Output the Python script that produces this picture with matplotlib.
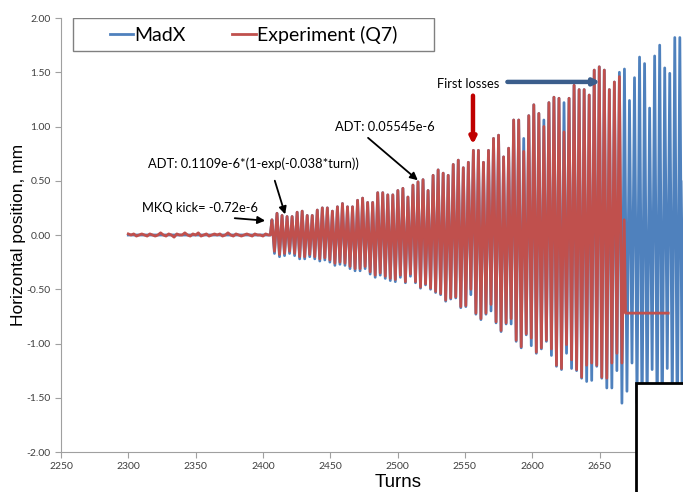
import numpy as np
import matplotlib
matplotlib.use("Agg")
import matplotlib.pyplot as plt
from matplotlib.patches import Rectangle

# --- data ------------------------------------------------------------------
# quiet orbit before the MKQ kick (every 2 turns from 2300)
NOISE = [0.01, 0.0, 0.01, -0.01, 0.0, 0.01, 0.0, -0.01, 0.01, 0.0,
         -0.01, 0.0, 0.02, 0.0, -0.01, 0.01, 0.0, -0.02, 0.01, 0.0,
         0.0, 0.02, 0.0, -0.01, 0.01, 0.0, 0.02, -0.01, 0.0, 0.01,
         -0.01, 0.0, 0.01, 0.0, 0.01, -0.01, 0.0, 0.02, 0.0, -0.01,
         0.01, 0.0, -0.01, 0.0, 0.01, 0.0, -0.01, 0.01, 0.0, 0.0,
         -0.01, 0.01, 0.0]
KICK_TURN = 2405.5
FIRST_PEAK_TURN = 2406.7
PERIOD = 3.74  # turns per oscillation

RED_PEAKS = [0.14, 0.20, 0.18, 0.17, 0.17, 0.21, 0.22, 0.18, 0.18, 0.23,
             0.25, 0.25, 0.22, 0.26, 0.29, 0.26, 0.26, 0.32, 0.34, 0.30,
             0.30, 0.39, 0.39, 0.37, 0.37, 0.41, 0.43, 0.35, 0.46, 0.49,
             0.51, 0.41, 0.55, 0.60, 0.57, 0.55, 0.65, 0.69, 0.62, 0.67,
             0.78, 0.78, 0.67, 0.78, 0.89, 0.92, 0.72, 0.80, 1.06, 1.06,
             0.77, 1.10, 1.20, 1.12, 1.00, 1.22, 1.27, 1.26, 0.95, 1.26,
             1.38, 1.34, 1.34, 1.29, 1.52, 1.55, 1.52, 1.34, 1.41, 1.46]
RED_TROUGHS = [-0.15, -0.18, -0.17, -0.15, -0.17, -0.20, -0.20, -0.18, -0.20, -0.22,
               -0.21, -0.23, -0.26, -0.25, -0.26, -0.29, -0.31, -0.31, -0.29, -0.34,
               -0.37, -0.35, -0.38, -0.40, -0.41, -0.37, -0.43, -0.36, -0.43, -0.48,
               -0.45, -0.49, -0.52, -0.54, -0.60, -0.58, -0.57, -0.66, -0.65, -0.50,
               -0.72, -0.77, -0.72, -0.64, -0.80, -0.88, -0.81, -0.77, -0.97, -1.03,
               -0.91, -0.95, -1.08, -1.04, -0.97, -1.05, -1.20, -1.23, -1.01, -1.15,
               -1.24, -1.31, -1.20, -1.18, -1.20, -1.31, -1.32, -1.18, -1.09, -1.18]
# after the losses the BPM reading sticks at a constant value
RED_TAIL_TURNS = [2668.3, 2669.3, 2701.0]
RED_TAIL = [0.14, -0.72, -0.72]

BLUE_PEAKS = [0.14, 0.20, 0.18, 0.17, 0.17, 0.21, 0.22, 0.18, 0.18, 0.23,
              0.25, 0.25, 0.22, 0.26, 0.29, 0.26, 0.26, 0.32, 0.34, 0.30,
              0.30, 0.39, 0.39, 0.37, 0.37, 0.41, 0.43, 0.35, 0.46, 0.49,
              0.51, 0.41, 0.55, 0.60, 0.57, 0.55, 0.65, 0.69, 0.62, 0.67,
              0.78, 0.78, 0.67, 0.78, 0.89, 0.92, 0.72, 0.80, 1.06, 1.06,
              0.89, 1.10, 1.20, 1.12, 1.06, 1.22, 1.27, 1.26, 1.22, 1.26,
              1.38, 1.34, 1.34, 1.29, 1.52, 1.55, 1.52, 1.34, 1.41, 1.50,
              1.53, 1.24, 1.45, 1.64, 1.58, 1.17, 1.65, 1.75, 1.54, 1.49,
              1.82, 1.82, 1.70]
BLUE_TROUGHS = [-0.17, -0.20, -0.19, -0.17, -0.19, -0.22, -0.22, -0.20, -0.22, -0.24,
                -0.23, -0.25, -0.28, -0.27, -0.28, -0.31, -0.33, -0.33, -0.31, -0.36,
                -0.39, -0.37, -0.40, -0.42, -0.43, -0.39, -0.44, -0.38, -0.44, -0.49,
                -0.46, -0.50, -0.53, -0.55, -0.61, -0.59, -0.58, -0.67, -0.66, -0.55,
                -0.73, -0.78, -0.73, -0.70, -0.81, -0.89, -0.82, -0.82, -0.98, -1.04,
                -0.92, -1.02, -1.09, -1.05, -0.98, -1.11, -1.21, -1.24, -1.09, -1.23,
                -1.25, -1.32, -1.35, -1.34, -1.21, -1.32, -1.41, -1.41, -1.25, -1.55,
                -1.44, -1.18, -1.55, -1.70, -1.60, -1.24, -1.70, -1.75, -1.23, -1.55,
                -1.85, -1.85, -1.80]

X_TICKS = list(range(2250, 2701, 50))
Y_TICKS = [-2.0, -1.5, -1.0, -0.5, 0.0, 0.5, 1.0, 1.5, 2.0]

RED = "#C0504D"
BLUE = "#4F81BD"


def extrema_series(peaks, troughs):
    # alternate peak / trough, half a period apart
    k = np.arange(len(peaks))
    turns = np.empty(2 * len(peaks))
    vals = np.empty(2 * len(peaks))
    turns[0::2] = FIRST_PEAK_TURN + PERIOD * k
    turns[1::2] = FIRST_PEAK_TURN + PERIOD * (k + 0.5)
    vals[0::2] = peaks
    vals[1::2] = troughs
    return turns, vals


def main():
    plt.rcParams["font.family"] = ["Liberation Sans", "DejaVu Sans"]
    plt.rcParams["axes.unicode_minus"] = False

    noise_turns = 2300 + 2 * np.arange(len(NOISE))
    rt, rv = extrema_series(RED_PEAKS, RED_TROUGHS)
    bt, bv = extrema_series(BLUE_PEAKS, BLUE_TROUGHS)

    red_x = np.concatenate([noise_turns, [KICK_TURN], rt, RED_TAIL_TURNS])
    red_y = np.concatenate([NOISE, [0.0], rv, RED_TAIL])
    blue_x = np.concatenate([[2300, KICK_TURN], bt])
    blue_y = np.concatenate([[0.0, 0.0], bv])

    fig = plt.figure(figsize=(6.83, 4.92), dpi=100)
    ax = fig.add_axes([0.0893, 0.0813, 0.9107, 0.8821])

    ax.plot(blue_x, blue_y, color=BLUE, lw=2.0, label="MadX", zorder=2)
    ax.plot(red_x, red_y, color=RED, lw=2.0, label="Experiment (Q7)", zorder=3)

    ax.set_xlim(2250, 2712)
    ax.set_ylim(-2.0, 2.0)
    ax.set_xticks(X_TICKS)
    ax.set_yticks(Y_TICKS)
    ax.set_yticklabels([f"{v:.2f}" for v in Y_TICKS])
    for lab in ax.get_xticklabels() + ax.get_yticklabels():
        lab.set_fontfamily(["Lato", "DejaVu Sans"])
    ax.tick_params(labelsize=7.5, labelcolor="#404040", color="#A0A0A0",
                   length=4, direction="out")
    for side in ("top", "right"):
        ax.spines[side].set_visible(False)
    for side in ("left", "bottom"):
        ax.spines[side].set_color("#A0A0A0")

    ax.set_xlabel("Turns", fontsize=13.5)
    ax.xaxis.set_label_coords(0.542, -0.05)
    ax.set_ylabel("Horizontal position, mm", fontsize=12.5)
    ax.yaxis.set_label_coords(-0.057, 0.5)

    # legend: entries centred in a plain rectangular frame
    ax.add_patch(Rectangle((0.0193, 0.924), 0.5804, 0.076, transform=ax.transAxes,
                           facecolor="white", edgecolor="#808080", lw=1.0, zorder=6))
    leg = ax.legend(loc="center", bbox_to_anchor=(0.3095, 0.962), ncol=2,
                    frameon=False, handlelength=1.2, handletextpad=0.05,
                    columnspacing=2.4, borderaxespad=0, borderpad=0,
                    prop={"family": "Lato", "size": 14})
    leg.set_zorder(7)

    # annotations
    note_font = {"family": ["Lato", "DejaVu Sans"], "size": 9.3}
    black_arrow = dict(arrowstyle="-|>", color="black", lw=1.3, mutation_scale=11)

    ax.text(2310.2, 0.25, "MKQ kick= -0.72e-6", va="center", ha="left", **note_font)
    ax.annotate("", xy=(2403.7, 0.13), xytext=(2377.0, 0.157), arrowprops=black_arrow)

    ax.text(2314.6, 0.654, "ADT: 0.1109e-6*(1-exp(-0.038*turn))", va="center",
            ha="left", **note_font)
    ax.annotate("", xy=(2417.1, 0.166), xytext=(2408.2, 0.525), arrowprops=black_arrow)

    ax.text(2453.5, 0.995, "ADT: 0.05545e-6", va="center", ha="left", **note_font)
    ax.annotate("", xy=(2516.6, 0.488), xytext=(2476.5, 0.912), arrowprops=black_arrow)

    ax.text(2529.5, 1.392, "First losses", va="center", ha="left", **note_font)
    ax.annotate("", xy=(2556.0, 0.81), xytext=(2556.0, 1.31),
                arrowprops=dict(arrowstyle="-|>", color="#C00000", lw=3.2,
                                mutation_scale=9), zorder=5)
    ax.annotate("", xy=(2652.5, 1.411), xytext=(2579.5, 1.411),
                arrowprops=dict(arrowstyle="-|>", color="#3B5E8C", lw=3.2,
                                mutation_scale=9), zorder=5)

    # white box with black frame sitting over the lower right corner
    fig.patches.append(Rectangle((0.931, -0.02), 0.1, 0.2415, transform=fig.transFigure,
                                 facecolor="white", edgecolor="black", lw=2.0,
                                 zorder=10))

    fig.savefig("out.png", dpi=100)


if __name__ == "__main__":
    main()
